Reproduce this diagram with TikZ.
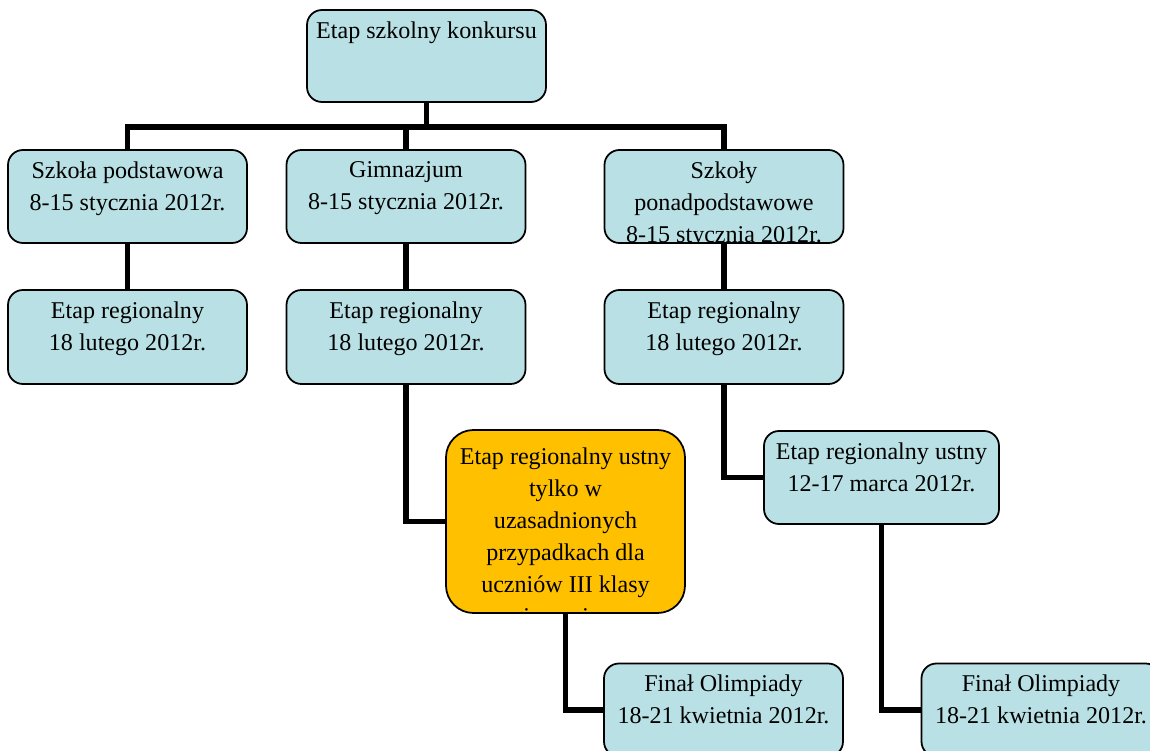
\documentclass[tikz,border=0pt]{standalone}
\usepackage{fontspec}
\setmainfont{Liberation Serif}
\usetikzlibrary{calc}
\definecolor{boxblue}{RGB}{185,224,228}
\definecolor{boxgold}{RGB}{255,192,0}

\begin{document}
\begin{tikzpicture}[box/.style = {draw, line width = 1pt, fill = boxblue, rounded corners = 8.5pt, minimum width = 4.78cm, minimum height = 1.86cm, inner sep = 0pt}, txt/.style = {anchor = north, align = center, inner sep = 0pt, minimum width = 0pt, minimum height = 0pt, font = \fontsize{13.7}{18.2}\selectfont}, lblat/.style 2 args = {path picture = {\node [txt] at ([yshift = -#1] path picture bounding box.north) {#2};}}, lbl/.style = {lblat = {0.21cm}{#1}}, c/.style = {line width = 3.4pt}]
      \useasboundingbox (0, 0) rectangle (23, -15.02);

      \node [box, minimum height = 1.84cm, lbl = {Etap szkolny konkursu}] (top) at (8.53, -1.12) {};

      \node [box, lbl = {Szkoła podstawowa\\8-15 stycznia 2012r.}] (szk) at (2.55, -3.93) {};
      \node [box, lbl = {Gimnazjum\\8-15 stycznia 2012r.}] (gim) at (8.12, -3.93) {};
      \node [box, lbl = {Szkoły\\ponadpodstawowe\\8-15 stycznia 2012r.}] (pon) at (14.48, -3.93) {};

      \node [box, minimum height = 1.88cm, lbl = {Etap regionalny\\18 lutego 2012r.}] (reg1) at (2.55, -6.74) {};
      \node [box, minimum height = 1.88cm, lbl = {Etap regionalny\\18 lutego 2012r.}] (reg2) at (8.12, -6.74) {};
      \node [box, minimum height = 1.88cm, lbl = {Etap regionalny\\18 lutego 2012r.}] (reg3) at (14.48, -6.74) {};

      \node [box, fill = boxgold, minimum height = 3.66cm, rounded corners = 0.55cm, lblat = {0.34cm}{Etap regionalny ustny\\tylko w\\uzasadnionych\\przypadkach dla\\uczniów III klasy\\gimnazjum}] (ust1) at (11.31, -10.43) {};
      \node [box, minimum width = 4.7cm, lbl = {Etap regionalny ustny\\12-17 marca 2012r.}] (ust2) at (17.63, -9.55) {};

      \node [box, lbl = {Finał Olimpiady\\18-21 kwietnia 2012r.}] (fin1) at (14.47, -14.2) {};
      \node [box, lbl = {Finał Olimpiady\\18-21 kwietnia 2012r.}] (fin2) at (20.82, -14.2) {};

      \coordinate (bar) at ($ (top.south) + (0, -0.48) $);
      \draw [c] (top.south) -- (bar);
      \draw [c] (szk.north) |- (bar) -| (pon.north);
      \draw [c] (gim.north) -- (gim.north |- bar);

      \draw [c] (szk.south) -- (reg1.north);
      \draw [c] (gim.south) -- (reg2.north);
      \draw [c] (pon.south) -- (reg3.north);

      \draw [c] (reg2.south) |- (ust1.west);
      \draw [c] (reg3.south) |- (ust2.west);
      \draw [c] (ust1.south) |- (fin1.west);
      \draw [c] (ust2.south) |- (fin2.west);
    \end{tikzpicture}
\end{document}
